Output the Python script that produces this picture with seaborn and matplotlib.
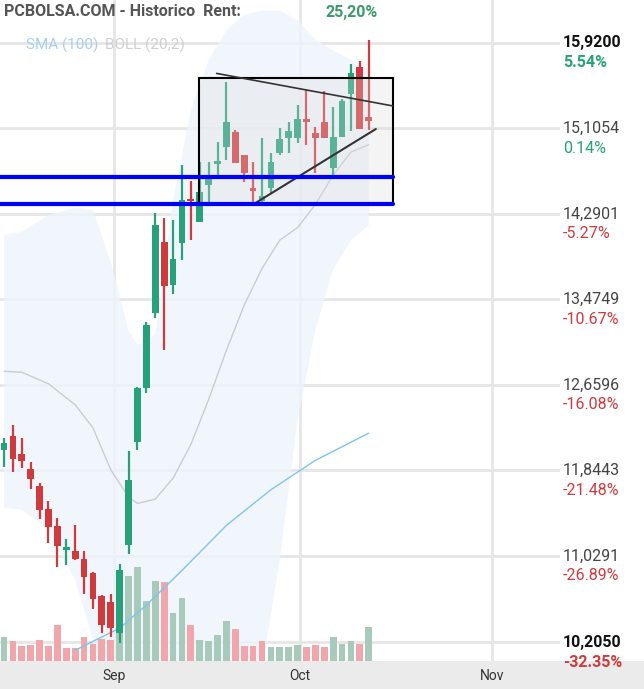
import numpy as np
import pandas as pd
import matplotlib
matplotlib.use("Agg")
import matplotlib.pyplot as plt
import matplotlib.transforms as mtransforms
import seaborn as sns

sns.set_style("white")
plt.rcParams['font.family'] = ['Roboto', 'DejaVu Sans']

opens  = [12.04,12.17,12.00,11.86,11.70,11.48,11.31,11.09,11.08,11.00,10.87,10.65,10.59,10.29,11.13,12.12,12.63,13.35,14.02,13.61,14.01,14.43,14.21,14.57,14.77,14.93,15.07,14.85,14.54,14.41,14.54,14.87,15.01,15.01,15.19,15.06,15.17,14.73,15.02,15.43,15.69,15.21]
highs  = [12.15,12.28,12.15,11.92,11.72,11.55,11.39,11.19,11.32,11.08,10.88,10.66,10.67,10.95,12.03,12.64,13.26,14.30,14.25,14.23,14.76,14.60,14.79,14.79,14.98,15.55,15.09,14.85,14.79,15.01,14.87,15.11,15.17,15.33,15.48,15.12,15.46,15.31,15.39,15.72,15.75,15.95]
lows   = [11.88,11.83,11.87,11.67,11.38,11.15,10.92,10.94,10.99,10.67,10.52,10.29,10.26,10.20,11.05,12.04,12.58,13.30,12.99,13.53,13.85,14.04,14.21,14.39,14.66,14.80,14.78,14.59,14.39,14.39,14.49,14.85,14.87,14.97,14.95,14.68,15.01,14.64,15.02,15.08,15.10,15.09]
closes = [12.11,11.95,11.93,11.76,11.47,11.30,11.12,11.11,11.00,10.83,10.62,10.37,10.34,10.89,11.75,12.63,13.23,14.18,13.60,13.86,14.42,14.41,14.50,14.66,14.79,15.17,14.78,14.68,14.51,14.46,14.79,15.00,15.08,15.20,15.17,15.01,15.01,15.02,15.37,15.63,15.10,15.18]
volumes = [24,20,15,16,21,15,36,13,13,24,17,22,21,90,85,94,60,80,79,48,63,36,21,20,26,40,32,15,15,20,14,14,14,16,14,16,14,24,17,20,17,34]
vol_up = [1,0,0,0,0,0,0,0,0,0,0,0,0,1,1,1,1,1,0,1,1,0,1,1,1,1,0,0,0,0,1,1,1,1,0,0,0,1,1,1,0,1]
VOL_AXIS_MAX = 661

sma100_idx = [8,13,16,20,25,30,35,41]
sma100 = [10.13,10.34,10.56,10.89,11.32,11.66,11.94,12.20]

band_idx = [0,2,5,8,10,12,14,15,17,19,21,23,25,27,29,31,33,35,37,39,41]
boll_mid = [12.79,12.78,12.67,12.47,12.25,11.85,11.59,11.53,11.57,11.77,12.09,12.52,12.99,13.42,13.77,14.04,14.16,14.38,14.66,14.88,14.95]
boll_up  = [14.09,14.12,14.28,14.35,14.33,13.83,13.18,13.04,13.14,14.42,15.28,15.76,16.04,16.19,16.23,16.23,16.14,15.95,15.85,15.76,15.66]
boll_lo  = [11.49,11.47,11.28,10.80,10.23,9.66,9.08,8.90,8.51,8.30,8.13,8.20,8.51,9.30,9.95,10.99,12.33,13.18,13.76,14.04,14.18]

price_ticks = [15.9200,15.1054,14.2901,13.4749,12.6596,11.8443,11.0291,10.2050]
price_labels = ["15,9200","15,1054","14,2901","13,4749","12,6596","11,8443","11,0291","10,2050"]
pct_labels = ["5.54%","0.14%","-5.27%","-10.67%","-16.08%","-21.48%","-26.89%","-32.35%"]
month_pos = [12.4,33.3,54.9]
month_labels = ["Sep","Oct","Nov"]

support_levels = [14.64, 14.38]
box = (21.9, 43.7, 14.38, 15.59)
tl_upper = ([23.9, 43.7], [15.63, 15.32])
tl_lower = ([28.0, 41.8], [14.38, 15.10])

GREEN = "#26a17a"; RED = "#d13a3d"

fig = plt.figure(figsize=(6.44, 6.89), dpi=100)
fig.patch.set_facecolor("white")
bg = fig.add_axes([0, 0, 1, 28/689], zorder=-5)
bg.set_facecolor("#ebebeb"); bg.set_xticks([]); bg.set_yticks([])
for sp in bg.spines.values():
    sp.set_visible(False)

ax = fig.add_axes([0, 28/689, 560/644, 661/689], zorder=1)
ax.set_xlim(-0.45, 62.5)
ax.set_ylim(10.027, 16.33)
ax.patch.set_visible(False)

for p in price_ticks:
    ax.axhline(p, color="#e6e6e6", lw=2, zorder=0)
for m in month_pos:
    ax.axvline(m, color="#e6e6e6", lw=2, zorder=0)

ax.fill_between(band_idx, boll_lo, boll_up, color="#eef4fc", alpha=0.8, lw=0, zorder=1)

vtr = mtransforms.blended_transform_factory(ax.transData, ax.transAxes)
for i, (v, u) in enumerate(zip(volumes, vol_up)):
    ax.add_patch(plt.Rectangle((i - 0.38, 0), 0.76, v / VOL_AXIS_MAX, transform=vtr,
                               color="#a8cabb" if u else "#f0a6aa", lw=0, zorder=1.5))

df_mid = pd.DataFrame({"i": band_idx, "v": boll_mid})
sns.lineplot(data=df_mid, x="i", y="v", ax=ax, color="#cccccc", lw=1, zorder=2)
df_sma = pd.DataFrame({"i": sma100_idx, "v": sma100})
sns.lineplot(data=df_sma, x="i", y="v", ax=ax, color="#7cc4f0", lw=1, zorder=2)

for i, (o, h, l, c) in enumerate(zip(opens, highs, lows, closes)):
    col = GREEN if c >= o else RED
    ax.plot([i, i], [l, h], color=col, lw=1.6, zorder=3, solid_capstyle="butt")
    bot, ht = min(o, c), max(abs(c - o), 0.025)
    ax.add_patch(plt.Rectangle((i - 0.38, bot), 0.76, ht, color=col, zorder=3, lw=0))

x0, x1, y0, y1 = box
ax.add_patch(plt.Rectangle((x0, y0), x1 - x0, y1 - y0, facecolor="#dcdcdc", alpha=0.3, edgecolor="none", zorder=4))
ax.add_patch(plt.Rectangle((x0, y0), x1 - x0, y1 - y0, facecolor="none", edgecolor="black", lw=1.5, zorder=5))
ax.plot(*tl_upper, color="#333333", lw=1.2, zorder=5)
ax.plot(*tl_lower, color="#333333", lw=1.5, zorder=5)
for s in support_levels:
    ax.plot([-0.45, x1], [s, s], color="#0000ff", lw=3, zorder=6)

ax.set_xticks(month_pos)
ax.set_xticklabels(month_labels, fontsize=10, color="#333333")
ax.tick_params(axis="x", length=0, pad=6)
ax.set_yticks([])
ax.set_xlabel(""); ax.set_ylabel("")
for sp in ax.spines.values():
    sp.set_visible(False)

tr = mtransforms.blended_transform_factory(ax.transAxes, ax.transData)
for k, (p, lab, pc) in enumerate(zip(price_ticks, price_labels, pct_labels)):
    bold = k in (0, len(price_ticks) - 1)
    ax.text(1.005, p, lab, transform=tr, va="center", ha="left", fontsize=11.5,
            color="#111111" if bold else "#444444", fontweight="bold" if bold else "normal", clip_on=False)
    pcol = GREEN if not pc.startswith("-") else RED
    ax.text(1.005, p - 0.19, pc, transform=tr, va="center", ha="left", fontsize=11.5, color=pcol,
            fontweight="bold" if bold else "normal", clip_on=False)

fig.text(4/644, 1 - 12/689, "PCBOLSA.COM - Historico  Rent:", fontsize=11.5, fontweight="bold", color="#555555", va="center")
fig.text(325/644, 1 - 12/689, "25,20%", fontsize=11.5, fontweight="bold", color="#3a9a6a", va="center")
fig.text(26/644, 1 - 45/689, "SMA (100)", fontsize=11, color="#a8d0ec", va="center")
fig.text(105/644, 1 - 45/689, "BOLL (20,2)", fontsize=11, color="#d0d0d0", va="center")

fig.savefig("out.png", dpi=100)
